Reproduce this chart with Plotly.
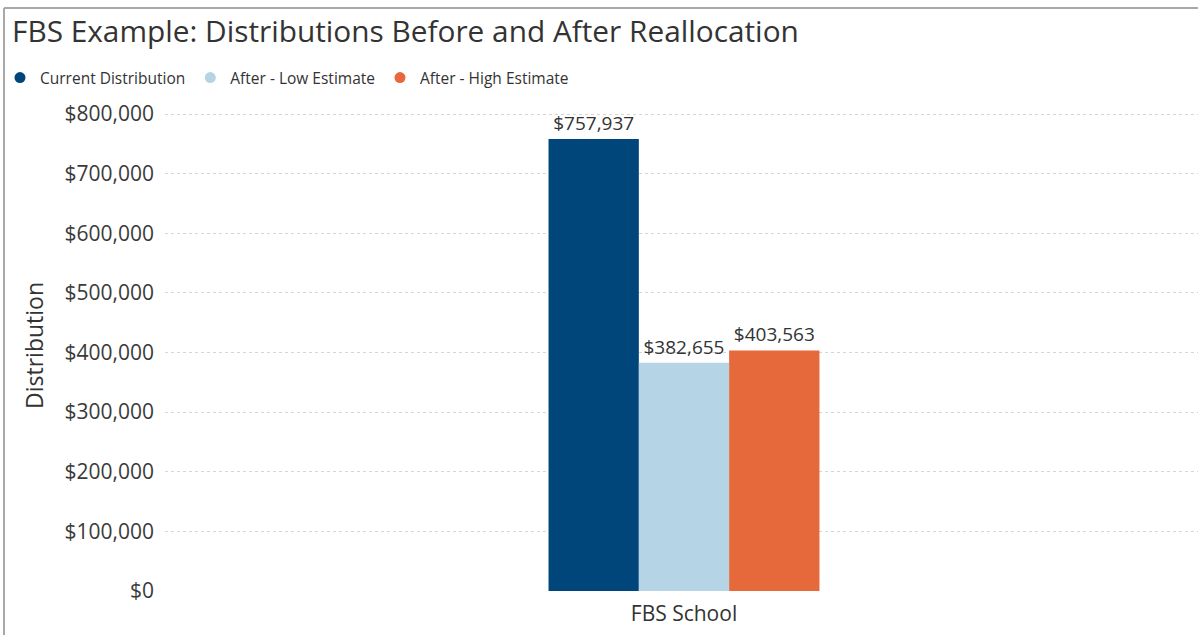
import plotly.graph_objects as go

categories = ["FBS School"]
series_names = ["Current Distribution", "After - Low Estimate", "After - High Estimate"]
current = [757937]
low_est = [382655]
high_est = [403563]
colors = ["#01467A", "#B5D4E6", "#E5693A"]
y_ticks = [0, 100000, 200000, 300000, 400000, 500000, 600000, 700000, 800000]

W, H = 1198, 635
L, R, T, B = 165, 0, 100, 44
FONT = "Open Sans"
TXT = "#333333"

fig = go.Figure()
for name, vals, c in zip(series_names, [current, low_est, high_est], colors):
    fig.add_trace(go.Bar(
        x=categories, y=vals, name=name, marker=dict(color=c, line=dict(width=0)),
        texttemplate="$%{y:,}", textposition="outside", cliponaxis=False,
        constraintext="none",
        textfont=dict(family=FONT, size=19, color=TXT),
        showlegend=False,
    ))
    fig.add_trace(go.Scatter(
        x=[None], y=[None], mode="markers", name=name,
        marker=dict(symbol="circle", size=11, color=c), showlegend=True,
    ))

pw = W - L - R
ph = H - T - B
def px_x(p):
    return (p - L) / pw
def px_y(p):
    return (H - B - p) / ph

line_col = "#A8A8A8"
fig.add_shape(type="line", xref="paper", yref="paper", x0=px_x(4), x1=px_x(1200), y0=px_y(8), y1=px_y(8),
              line=dict(color=line_col, width=2))
fig.add_shape(type="line", xref="paper", yref="paper", x0=px_x(4), x1=px_x(4), y0=px_y(8), y1=px_y(640),
              line=dict(color=line_col, width=2))

fig.update_layout(
    width=W, height=H,
    margin=dict(l=L, r=R, t=T, b=B),
    paper_bgcolor="white", plot_bgcolor="white",
    barmode="group", bargap=0.739, bargroupgap=0,
    font=dict(family=FONT, color=TXT),
    title=dict(text="FBS Example: Distributions Before and After Reallocation",
               x=12 / W, xref="container", xanchor="left",
               y=1 - 32 / H, yref="container", yanchor="middle",
               font=dict(family=FONT, size=29.8, color=TXT)),
    legend=dict(orientation="h", xref="container", yref="container",
                x=-0.005, xanchor="left", y=1 - 78 / H, yanchor="middle",
                font=dict(family=FONT, size=15.5, color=TXT),
                itemwidth=30, tracegroupgap=0, bgcolor="rgba(0,0,0,0)"),
    xaxis=dict(type="category", range=[-0.5, 0.4952], showgrid=False, showline=False,
               ticks="", ticklabelstandoff=8,
               tickfont=dict(family=FONT, size=21, color=TXT),
               zeroline=False),
    yaxis=dict(range=[0, 823480], tickvals=y_ticks,
               ticktext=["$" + format(v, ",") for v in y_ticks],
               showgrid=True, gridcolor="#D6D6D6", griddash="dot", gridwidth=1,
               zeroline=False, showline=False, ticks="", ticklabelstandoff=10,
               tickfont=dict(family=FONT, size=21, color="#3A3A3A"),
               title=dict(text="Distribution", standoff=14,
                          font=dict(family=FONT, size=23, color=TXT))),
)

fig.write_html("out.html")
